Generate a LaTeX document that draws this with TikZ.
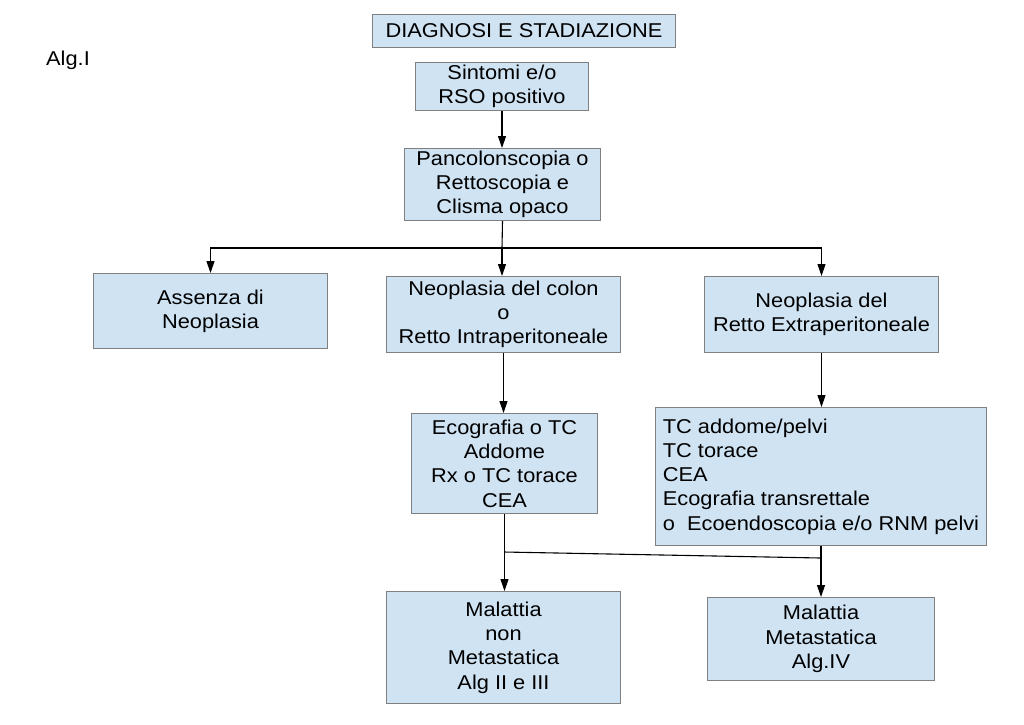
\documentclass[tikz,border=0pt]{standalone}
\usepackage{fontspec}
\setmainfont[FakeStretch=1.09]{Liberation Sans}
\usetikzlibrary{arrows.meta}
\definecolor{boxfill}{RGB}{207,227,243}
\definecolor{boxline}{RGB}{128,128,128}
\tikzset{
  fbox/.style={draw=boxline, line width=1pt, fill=boxfill, inner sep=0pt, anchor=north west,
    align=center, font=\fontsize{20}{24.3}\selectfont},
  arr/.style={line width=1.1pt, -{Triangle[width=8pt,length=12pt]}},
  ln/.style={line width=1.1pt},
}
\begin{document}
\begin{tikzpicture}[x=1pt,y=-1pt]
\useasboundingbox[fill=white] (0,0) rectangle (1024,724);
\node[anchor=west, font=\fontsize{20}{24}\selectfont, inner sep=0pt] (alg) at (46,60) {Alg.I};
\node[fbox, minimum width=303pt, minimum height=33pt] (diag) at (372,14) {DIAGNOSI E STADIAZIONE};
\node[fbox, minimum width=173pt, minimum height=48pt] (sint) at (415,62) {Sintomi e/o\\RSO positivo};
\node[fbox, minimum width=196pt, minimum height=72pt] (panc) at (404,148) {Pancolonscopia o\\Rettoscopia e\\Clisma opaco};
\node[fbox, minimum width=234pt, minimum height=75pt] (ass) at (93,273) {Assenza di\\Neoplasia};
\node[fbox, minimum width=234pt, minimum height=76pt] (colon) at (386,276) {Neoplasia del colon\\o\\Retto Intraperitoneale};
\node[fbox, minimum width=234pt, minimum height=76pt] (retto) at (704,276) {Neoplasia del\\Retto Extraperitoneale};
\node[fbox, minimum width=186pt, minimum height=100pt] (ecog) at (411,413) {Ecografia o TC\\Addome\\Rx o TC torace\\CEA};
\node[fbox, minimum width=331pt, minimum height=138pt, align=left] (tc) at (655,407) {TC addome/pelvi\\TC torace\\CEA\\Ecografia transrettale\\o\ \ Ecoendoscopia e/o RNM pelvi};
\node[fbox, minimum width=234pt, minimum height=112pt] (mnon) at (386,591) {Malattia\\non\\Metastatica\\Alg II e III};
\node[fbox, minimum width=227pt, minimum height=83pt] (mmet) at (707,597) {Malattia\\Metastatica\\Alg.IV};
\draw[arr] (sint.south) -- (sint.south |- panc.north);
\coordinate (split) at (502,248);
\draw[ln] (panc.south) -- (split);
\draw[arr] (split) -- (split |- colon.north);
\draw[arr] (split) -| (ass.north);
\draw[arr] (split) -| (retto.north);
\draw[arr] (colon.south) -- (colon.south |- ecog.north);
\draw[arr] (retto.south) -- (retto.south |- tc.north);
\draw[arr] (ecog.south) -- (ecog.south |- mnon.north);
\draw[arr] (tc.south) -- (tc.south |- mmet.north);
\coordinate (j1) at (504,552);
\coordinate (j2) at (820.5,558);
\draw[ln] (j1) -- (j2);
\end{tikzpicture}
\end{document}
